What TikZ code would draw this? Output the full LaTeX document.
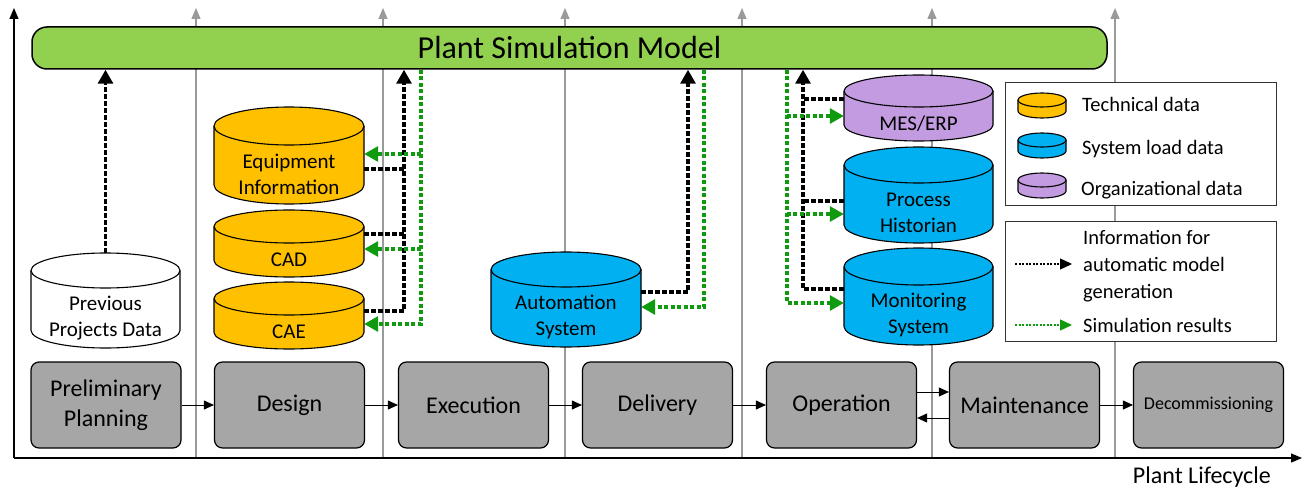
\documentclass[tikz,border=0pt]{standalone}
\usepackage{fontspec}
\setmainfont{Carlito}
\usetikzlibrary{arrows.meta}
\definecolor{barg}{HTML}{92D050}
\definecolor{techy}{HTML}{FFC000}
\definecolor{sysb}{HTML}{00B0F0}
\definecolor{orgp}{HTML}{C39BE0}
\definecolor{procg}{HTML}{A6A6A6}
\definecolor{simg}{HTML}{109A10}
\definecolor{lgray}{HTML}{9A9A9A}
\newcommand\dbcyl[8]{%
  \pgfmathsetmacro\cylcx{(#2+#3)/2}\pgfmathsetmacro\cylrx{(#3-#2)/2}%
  \filldraw[cyl, fill=#7] (#2,{#4+#6}) -- (#2,{#5-#6})
     arc[start angle=180, end angle=0, x radius=\cylrx, y radius=#6]
     -- (#3,{#4+#6})
     arc[start angle=0, end angle=-180, x radius=\cylrx, y radius=#6] -- cycle;
  \draw[cyl] (#2,{#4+#6}) arc[start angle=180, end angle=0, x radius=\cylrx, y radius=#6];
  \node[inner sep=0, minimum width={#3-#2}, minimum height={#5-#4}] (#1) at (\cylcx,{(#4+#5)/2}) {};
  \node[cyltext] (#1-t) at (\cylcx,{(#4+2*#6+#5)/2}) {#8};
}
\begin{document}
\begin{tikzpicture}[x=1pt, y=-1pt,
  gline/.style={draw=lgray, line width=1.2pt, -{Triangle[length=11pt,width=9pt]}},
  axisline/.style={draw=black, line width=1.2pt, -{Triangle[length=11pt,width=9pt]}},
  cyl/.style={draw=black, line width=1.1pt},
  cyltext/.style={font=\fontsize{21}{26}\selectfont, align=center, inner sep=0},
  proc/.style={draw=black, line width=1.2pt, fill=procg, rounded corners=8pt,
     minimum width=150pt, minimum height=86pt, align=center, inner sep=2pt,
     font=\fontsize{24}{30}\selectfont},
  flow/.style={draw=black, line width=1pt, -{Triangle[length=10pt,width=9pt]}},
  blk/.style={draw=black, line width=3.2pt, dash pattern=on 4.5pt off 2.5pt},
  blkA/.style={blk, -{Triangle[length=14pt,width=15pt]}},
  grn/.style={draw=simg, line width=3.2pt, dash pattern=on 4pt off 2.5pt},
  grnA/.style={grn, -{Triangle[length=14pt,width=15pt]}},
  legbox/.style={draw=black!80, line width=1pt, fill=white, inner sep=0, minimum width=271pt},
  legtext/.style={font=\fontsize{20.5}{27}\selectfont, align=left, anchor=west, inner sep=0},
  legblk/.style={draw=black, line width=1.3pt, dash pattern=on 2pt off 1.5pt, -{Triangle[length=12pt,width=11pt]}},
  leggrn/.style={draw=simg, line width=1.3pt, dash pattern=on 2pt off 1.5pt, -{Triangle[length=12pt,width=11pt]}}
]
\useasboundingbox (0,0) rectangle (1305,489);
\fill[white] (0,0) rectangle (1305,489);

% lifecycle phase separators
\foreach \gx in {196,383,565,742,932,1115} {
  \draw[gline] (\gx,458) -- (\gx,8);
}
% axes
\coordinate (origin) at (14,458);
\coordinate (ytip) at (14,8);
\coordinate (xtip) at (1302,458);
\draw[axisline] (origin) -- (ytip);
\draw[axisline] (origin) -- (xtip);
\node[font=\fontsize{24}{28}\selectfont, anchor=east, inner sep=0] (plc) at (1271,477) {Plant Lifecycle};

% simulation model bar
\node[draw=black, line width=1.5pt, fill=barg, rounded corners=15pt,
  minimum width=1075pt, minimum height=42pt, inner sep=0,
  font=\fontsize{32}{38}\selectfont] (psm) at (569.5,48) {Plant Simulation Model};

% data sources
\dbcyl{prev}{31}{180}{253}{348}{17.5}{white}{Previous\\Projects Data}
\dbcyl{eq}{214}{364}{107}{204}{19}{techy}{Equipment\\Information}
\dbcyl{cad}{214}{364}{210}{277}{16.5}{techy}{CAD}
\dbcyl{cae}{214}{364}{282}{349}{16.5}{techy}{CAE}
\dbcyl{aut}{491}{641}{252}{347}{17.5}{sysb}{Automation\\System}
\dbcyl{mes}{844}{993}{75}{141}{16}{orgp}{MES/ERP}
\dbcyl{ph}{844}{993}{147}{243}{18}{sysb}{Process\\Historian}
\dbcyl{mon}{844}{993}{248}{345}{18.5}{sysb}{Monitoring\\System}

% lifecycle phases
\node[proc] (pp)  at (106,405)    {Preliminary\\Planning};
\node[proc] (des) at (289.5,405)  {Design};
\node[proc] (exe) at (473.5,405)  {Execution};
\node[proc] (del) at (657.5,405)  {Delivery};
\node[proc] (op)  at (841.5,405)  {Operation};
\node[proc] (mt)  at (1024.5,405) {Maintenance};
\node[proc, font=\fontsize{18}{22}\selectfont] (dec) at (1208.5,405) {Decommissioning};
\draw[flow] (pp) -- (des);
\draw[flow] (des) -- (exe);
\draw[flow] (exe) -- (del);
\draw[flow] (del) -- (op);
\draw[flow] ([yshift=13pt]op.east) -- ([yshift=13pt]mt.west);
\draw[flow] ([yshift=-13pt]mt.west) -- ([yshift=-13pt]op.east);
\draw[flow] (mt) -- (dec);

% bus coordinates
\coordinate (b1) at (404,0);
\coordinate (g1) at (421,0);
\coordinate (b2) at (688,0);
\coordinate (g2) at (704,0);
\coordinate (b3) at (803,0);
\coordinate (g3) at (787,0);

% previous projects
\draw[blkA] (prev.north) -- (prev.north |- psm.south);

% technical data group
\draw[blkA] ([yshift=4.5pt]cae.east) -| (b1 |- psm.south);
\draw[blk] ([yshift=-13.5pt]eq.east) -- +(40,0);
\draw[blk] ([yshift=9.5pt]cad.east) -- +(40,0);
\draw[grnA] (g1 |- psm.south) |- ([yshift=-8.5pt]cae.east);
\draw[grnA] ([xshift=57pt,yshift=1.5pt]eq.east) -- ([yshift=1.5pt]eq.east);
\draw[grnA] ([xshift=57pt,yshift=-5.5pt]cad.east) -- ([yshift=-5.5pt]cad.east);

% automation system
\draw[blkA] ([yshift=7.5pt]aut.east) -| (b2 |- psm.south);
\draw[grnA] (g2 |- psm.south) |- ([yshift=-7.5pt]aut.east);

% operation group
\draw[blkA] ([yshift=7.5pt]mon.west) -| (b3 |- psm.south);
\draw[blk] ([yshift=9pt]mes.west) -- +(-41,0);
\draw[blk] ([yshift=-6pt]ph.west) -- +(-41,0);
\draw[grnA] (g3 |- psm.south) |- ([yshift=-6.5pt]mon.west);
\draw[grnA] ([xshift=-57pt,yshift=-8pt]mes.west) -- ([yshift=-8pt]mes.west);
\draw[grnA] ([xshift=-57pt,yshift=-19pt]ph.west) -- ([yshift=-19pt]ph.west);

% legend 1
\node[legbox, minimum height=122pt] (leg1) at (1140.5,144) {};
\dbcyl{lt}{1018}{1066}{93}{118}{7}{techy}{}
\dbcyl{ls}{1018}{1066}{133}{158}{7}{sysb}{}
\dbcyl{lo}{1018}{1066}{173}{198}{7}{orgp}{}
\node[legtext] (ltt) at (1082,104) {Technical data};
\node[legtext] (lst) at (1082,149.5) {System load data};
\node[legtext] (lot) at (1081,190.5) {Organizational data};

% legend 2
\node[legbox, minimum height=120pt] (leg2) at (1140.5,281) {};
\coordinate (la1) at (1015,264);
\coordinate (la2) at (1072,264);
\coordinate (lg1) at (1015,325);
\coordinate (lg2) at (1072,325);
\draw[legblk] (la1) -- (la2);
\draw[leggrn] (lg1) -- (lg2);
\node[legtext] (lit) at (1083,266) {Information for\\automatic model\\generation};
\node[legtext] (lrt) at (1083,325.5) {Simulation results};
\end{tikzpicture}
\end{document}
